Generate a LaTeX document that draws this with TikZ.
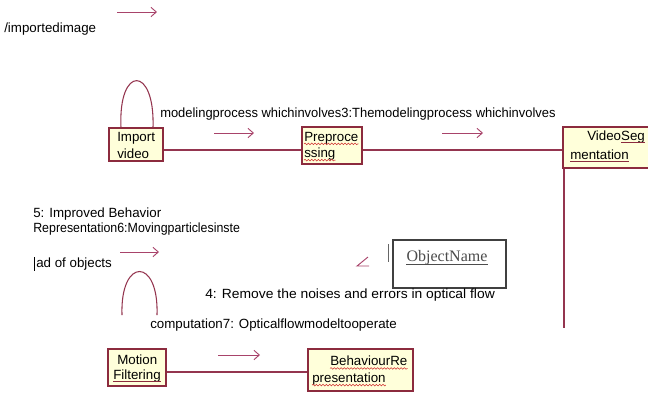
\documentclass[tikz,border=0pt]{standalone}
\usepackage{fontspec}
\setmainfont{Liberation Sans}
\newfontfamily\objfont{Liberation Serif}
\usetikzlibrary{arrows.meta,decorations.pathmorphing}
\definecolor{boxline}{HTML}{8C2B3E}
\definecolor{boxfill}{HTML}{FFFFDA}
\definecolor{linkline}{HTML}{94354F}
\definecolor{msgarrow}{HTML}{A8436A}
\definecolor{spellred}{HTML}{D03030}
\begin{document}
\begin{tikzpicture}[x=0.75pt,y=-0.75pt,
  objbox/.style={draw=boxline,fill=boxfill,line width=0.8pt,inner sep=0pt},
  txt/.style={inner sep=0pt,anchor=west,font=\fontsize{10}{11}\selectfont},
  link/.style={draw=linkline,line width=0.8pt},
  msg/.style={draw=msgarrow,line width=0.7pt,-{Straight Barb[length=4pt,width=7pt]}},
  wavy/.style={draw=spellred,line width=0.4pt,decorate,decoration={snake,amplitude=0.6pt,segment length=2.5pt}},
  uline/.style={draw=boxline,line width=0.6pt}]
\useasboundingbox (0,0) rectangle (648,394);
\clip (0,0) rectangle (648,394);

% object boxes
\node[objbox,minimum width=54*0.75pt,minimum height=33*0.75pt] (import) at (136,144.5) {};
\node[objbox,minimum width=60*0.75pt,minimum height=37*0.75pt] (prep) at (332,145.5) {};
\node[objbox,minimum width=100*0.75pt,minimum height=41*0.75pt] (vseg) at (613,147.5) {};
\node[objbox,minimum width=58*0.75pt,minimum height=37*0.75pt] (motion) at (137,367.5) {};
\node[objbox,minimum width=105*0.75pt,minimum height=42*0.75pt] (behav) at (360.5,370) {};
\node[draw=black!75,fill=white,line width=0.8pt,minimum width=113*0.75pt,minimum height=48*0.75pt] (objname) at (449.5,264) {};

% box captions
\node[txt] (t1) at (117,138) {Import};
\node[txt] (t2) at (117,153.5) {video};
\node[txt] (t3) at (304,138) {Preproce};
\node[txt] (t4) at (304,154) {ssing};
\node[txt] (t5) at (587,137) {Video\rlap{Seg}\phantom{Seg}};
\node[txt] (t6) at (570,155) {mentation};
\node[txt] (t7) at (117,360) {Motion};
\node[txt] (t8) at (113,376) {Filtering};
\node[txt] (t9) at (330,361) {BehaviourRe};
\node[txt] (t10) at (312,379) {presentation};
\node[inner sep=0pt,font=\objfont\fontsize{12}{14}\selectfont,text=black!70] (t11) at (447,258) {ObjectName};

% underlines
\draw[uline] ([yshift=-1.5pt]t5.base east) ++(-18pt,0) -- ++(18pt,0);
\draw[uline] ([yshift=-1.5pt]t6.base west) -- ([yshift=-1.5pt]t6.base east);
\draw[uline] ([yshift=-1.5pt]t8.base west) -- ([yshift=-1.5pt]t8.base east);
\draw[black!70,line width=0.5pt] ([yshift=-1.5pt]t11.base west) -- ([yshift=-1.5pt]t11.base east);
\draw[wavy] ([yshift=-2pt]t3.base west) -- ([yshift=-2pt]t3.base east);
\draw[wavy] ([yshift=-2pt]t4.base west) -- ([yshift=-2pt]t4.base east);
\draw[wavy] ([yshift=-2pt]t9.base west) -- ([yshift=-2pt]t9.base east);
\draw[wavy] ([yshift=-2pt]t10.base west) -- ([yshift=-2pt]t10.base east);

% links between objects
\draw[link] (import.east |- 0,150) -- (prep.west |- 0,150);
\draw[link] (prep.east |- 0,150) -- (vseg.west |- 0,150);
\draw[link] (motion.east |- 0,372) -- (behav.west |- 0,372);
\coordinate (vsegend) at (564,328);
\draw[link] (vseg.south west -| vsegend) -- (vsegend);

% self links
\draw[link] ([xshift=-15*0.75pt]import.north) .. controls (118,65) and (155,65) .. ([xshift=17*0.75pt]import.north);
\coordinate (loopa) at (122,315);
\coordinate (loopb) at (157,315);
\draw[link] (loopa) .. controls (120,257) and (159,257) .. (loopb);

% message arrows
\coordinate (m1a) at (117,12); \coordinate (m1b) at (157,12);
\draw[msg] (m1a) -- (m1b);
\coordinate (m2a) at (214,133); \coordinate (m2b) at (254,133);
\draw[msg] (m2a) -- (m2b);
\coordinate (m3a) at (442,133); \coordinate (m3b) at (483,133);
\draw[msg] (m3a) -- (m3b);
\coordinate (m4a) at (120,252); \coordinate (m4b) at (159,252);
\draw[msg] (m4a) -- (m4b);
\coordinate (m5a) at (218,355); \coordinate (m5b) at (260,355);
\draw[msg] (m5a) -- (m5b);
\coordinate (m6a) at (368,257); \coordinate (m6b) at (357,266); \coordinate (m6c) at (369,266);
\draw[msgarrow,line width=0.7pt] (m6a) -- (m6b) -- (m6c);

% small marker beside ObjectName
\coordinate (bar1) at (388,244); \coordinate (bar2) at (388,262);
\draw[black!60,line width=0.6pt] (bar1) -- (bar2);

% message labels
\node[txt] (l1) at (4,29) {/importedimage};
\node[txt] (l2) at (160,114) {\scalebox{0.97}[1]{modelingprocess whichinvolves3:Themodelingprocess whichinvolves}};
\node[txt] (l3) at (33,214) {5: Improved Behavior};
\node[txt] (l4) at (33,229) {\scalebox{0.93}[1]{Representation6:Movingparticlesinste}};
\node[txt] (l5) at (36,264) {ad of objects};
\coordinate (cur1) at (34.5,257); \coordinate (cur2) at (34.5,271);
\draw[black,line width=1pt] (cur1) -- (cur2);
\node[txt] (l6) at (205,295) {\scalebox{1.04}[1]{4: Remove the noises and errors in optical flow}};
\node[txt] (l7) at (150,325) {computation7: Opticalflowmodeltooperate};
\end{tikzpicture}
\end{document}
